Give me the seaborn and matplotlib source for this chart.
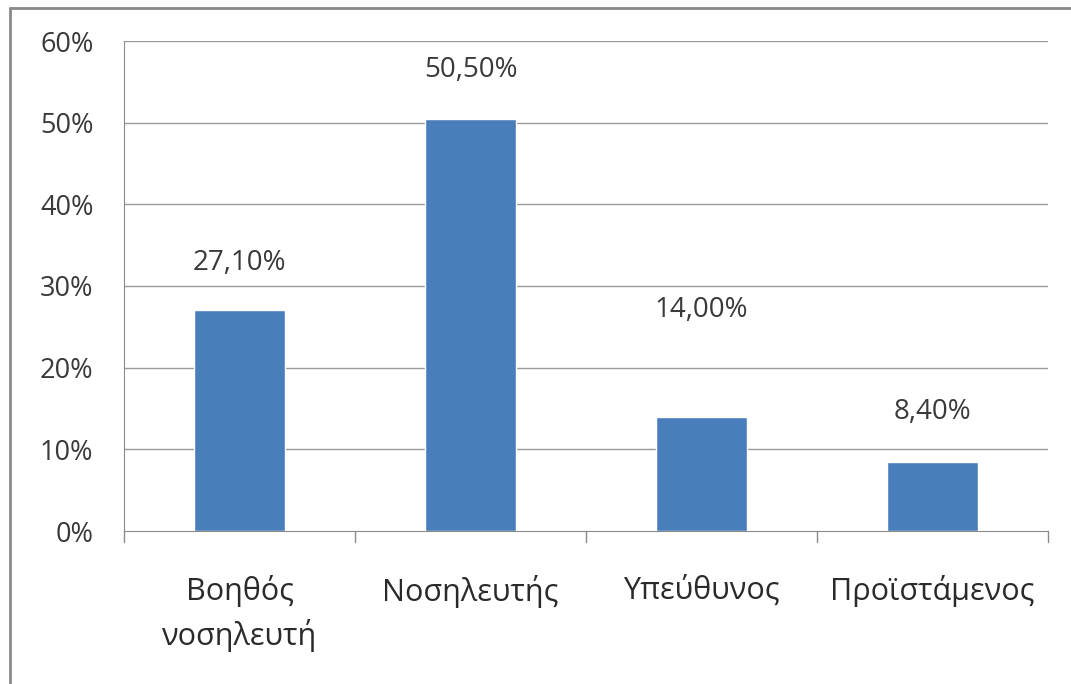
import matplotlib
matplotlib.use("Agg")
import matplotlib.pyplot as plt
import seaborn as sns
import pandas as pd
from matplotlib.lines import Line2D

# data
categories = ["Βοηθός\nνοσηλευτή", "Νοσηλευτής", "Υπεύθυνος", "Προϊστάμενος"]
values = [27.10, 50.50, 14.00, 8.40]
value_labels = ["27,10%", "50,50%", "14,00%", "8,40%"]
y_ticks = [0, 10, 20, 30, 40, 50, 60]
y_tick_labels = ["0%", "10%", "20%", "30%", "40%", "50%", "60%"]

# label lift above bar top (in %-units), the labels were placed by hand
label_lift = [5.7, 5.9, 13.1, 6.2]

df = pd.DataFrame({"cat": categories, "val": values})

sns.set_style("white")
plt.rcParams["font.family"] = ["Open Sans", "DejaVu Sans"]

fig = plt.figure(figsize=(10.71, 6.84), dpi=100)
ax = fig.add_axes([124 / 1071, 1 - 531 / 684, (1048 - 124) / 1071, (531 - 41) / 684])

sns.barplot(data=df, x="cat", y="val", color="#4a7ebb", saturation=1,
            width=0.39, ax=ax, zorder=3)

ax.set_ylim(0, 60)
ax.set_xlim(-0.5, 3.5)
ax.set_yticks(y_ticks)
ax.set_yticklabels(y_tick_labels)
ax.set_xlabel("")
ax.set_ylabel("")
ax.set_xticks([])

# grid lines
for t in y_ticks[1:]:
    ax.axhline(t, color="#9a9a9a", lw=1.0, zorder=1)

for s in ["top", "right"]:
    ax.spines[s].set_visible(False)
ax.spines["left"].set_color("#8a8a8a")
ax.spines["bottom"].set_color("#8a8a8a")

ax.tick_params(axis="y", length=12, color="#8a8a8a", width=1, labelsize=19.5,
               labelcolor="#3a3a3a", pad=10, direction="out")

# category separators below the axis
for xs in [-0.5, 0.5, 1.5, 2.5, 3.5]:
    ax.plot([xs, xs], [0, -1.3], color="#8a8a8a", lw=1, clip_on=False)

# category names
for i, c in enumerate(categories):
    ax.text(i, -5.4, c, ha="center", va="top", fontsize=22, color="#2a2a2a",
            linespacing=1.45)

# value labels
for i, (v, lab) in enumerate(zip(values, value_labels)):
    ax.text(i, v + label_lift[i], lab, ha="center", va="center",
            fontsize=20, color="#3a3a3a")

# outer frame (left and top)
fig.add_artist(Line2D([10 / 1071, 10 / 1071], [0, 1 - 8 / 684],
                      transform=fig.transFigure, color="#8a8a8a", lw=2))
fig.add_artist(Line2D([10 / 1071, 1], [1 - 8 / 684, 1 - 8 / 684],
                      transform=fig.transFigure, color="#8a8a8a", lw=2))

fig.savefig("out.png", dpi=100)
